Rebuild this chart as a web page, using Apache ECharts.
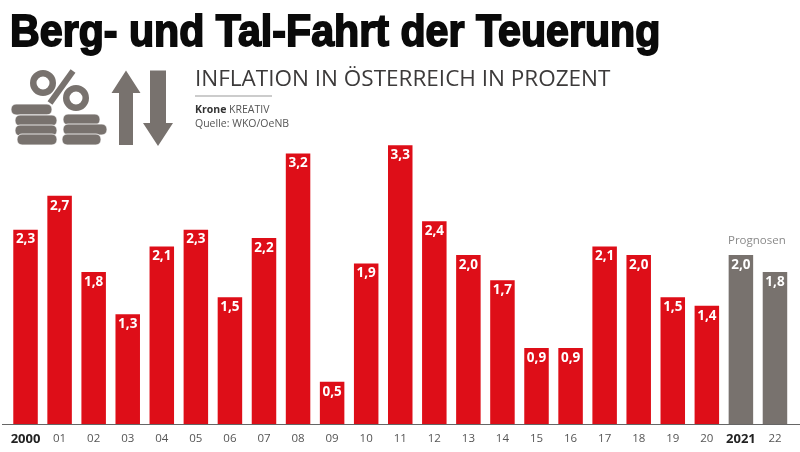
<!DOCTYPE html>
<html><head><meta charset="utf-8">
<style>html,body{margin:0;padding:0;background:#fff}#c{width:800px;height:452px}</style>
<script src="https://cdn.jsdelivr.net/npm/echarts@6/dist/echarts.min.js"></script></head>
<body><div id="c"></div>
<script>
const categories = ['2000','01','02','03','04','05','06','07','08','09','10','11','12','13','14','15','16','17','18','19','20','2021','22'];
const inflation = [2.3,2.7,1.8,1.3,2.1,2.3,1.5,2.2,3.2,0.5,1.9,3.3,2.4,2.0,1.7,0.9,0.9,2.1,2.0,1.5,1.4,2.0,1.8];
const forecastFrom = 21;
const boldLabels = ['2000','2021'];
const RED='#de0e18', GREY='#78726e', F='"Open Sans","Noto Sans",sans-serif';
const chart = echarts.init(document.getElementById('c'));
const arrow = (pts)=>({type:'polygon',shape:{points:pts},style:{fill:GREY}});
const coin = (x,y,w)=>({type:'rect',shape:{x,y,width:w,height:11,r:5},style:{fill:GREY,stroke:'#fff',lineWidth:0.8}});
const ring = (cx,cy)=>({type:'ring',shape:{cx,cy,r:13,r0:6.5},style:{fill:GREY}});
chart.setOption({
  animation:false,
  backgroundColor:'#fff',
  title:[
    {text:'INFLATION IN ÖSTERREICH IN PROZENT',left:195,top:68,padding:0,
     textStyle:{fontFamily:F,fontWeight:'normal',fontSize:22.5,color:'#3c3a3a'}}
  ],
  grid:{left:8.5,right:8,top:86,height:338,containLabel:false},
  xAxis:{type:'category',data:categories,
    axisLine:{show:false},axisTick:{show:false},
    axisLabel:{interval:0,margin:9,fontFamily:F,fontSize:11.5,color:'#555',
      formatter:v=>boldLabels.includes(v)?'{b|'+v+'}':v,
      rich:{b:{fontFamily:F,fontSize:13,fontWeight:'bold',color:'#222'}}}},
  yAxis:{type:'value',min:0,max:4,show:false},
  series:[{type:'bar',barWidth:24.5,
    data:inflation.map((v,i)=>({value:v,itemStyle:{color:i>=forecastFrom?GREY:RED}})),
    label:{show:true,position:'insideTop',distance:3,color:'#fff',fontFamily:F,fontWeight:'bold',fontSize:13.5,
      formatter:p=>p.value.toFixed(1).replace('.',',')}}],
  graphic:[
    {type:'text',x:10,y:11,scaleX:0.915,style:{text:'Berg- und Tal-Fahrt der Teuerung',
       fontFamily:'"Liberation Sans"',fontWeight:'bold',fontSize:45,fill:'#0a0a0a',stroke:'#0a0a0a',lineWidth:1.8}},
    {type:'line',shape:{x1:2,y1:424.5,x2:800,y2:424.5},style:{stroke:'#666',lineWidth:1}},
    {type:'line',shape:{x1:195,y1:96,x2:272,y2:96},style:{stroke:'#999',lineWidth:1}},
    {type:'text',style:{x:195,y:103,text:'{a|Krone} KREATIV\nQuelle: WKO/OeNB',fontFamily:F,fontSize:10.5,lineHeight:14,fill:'#555',
       rich:{a:{fontFamily:F,fontSize:10.5,fontWeight:'bold',fill:'#333'}}}},
    {type:'text',style:{x:728,y:235,text:'Prognosen',fontFamily:F,fontSize:11.5,fill:'#8a8a8a'}},
    ring(43,83),ring(76,98),
    {type:'line',shape:{x1:73,y1:71,x2:50,y2:103},style:{stroke:GREY,lineWidth:6}},
    coin(11,104,41),coin(15,115,42),coin(15,125,42),coin(17,134,40),
    coin(63,114,37),coin(63,124,44),coin(62,134,39),
    arrow([[126,70.5],[140.5,93],[133,93],[133,145],[119,145],[119,93],[111.5,93]]),
    arrow([[150,70.5],[166,70.5],[166,123],[173,123],[158,146],[143,123],[150,123]])
  ]
});
</script></body></html>
